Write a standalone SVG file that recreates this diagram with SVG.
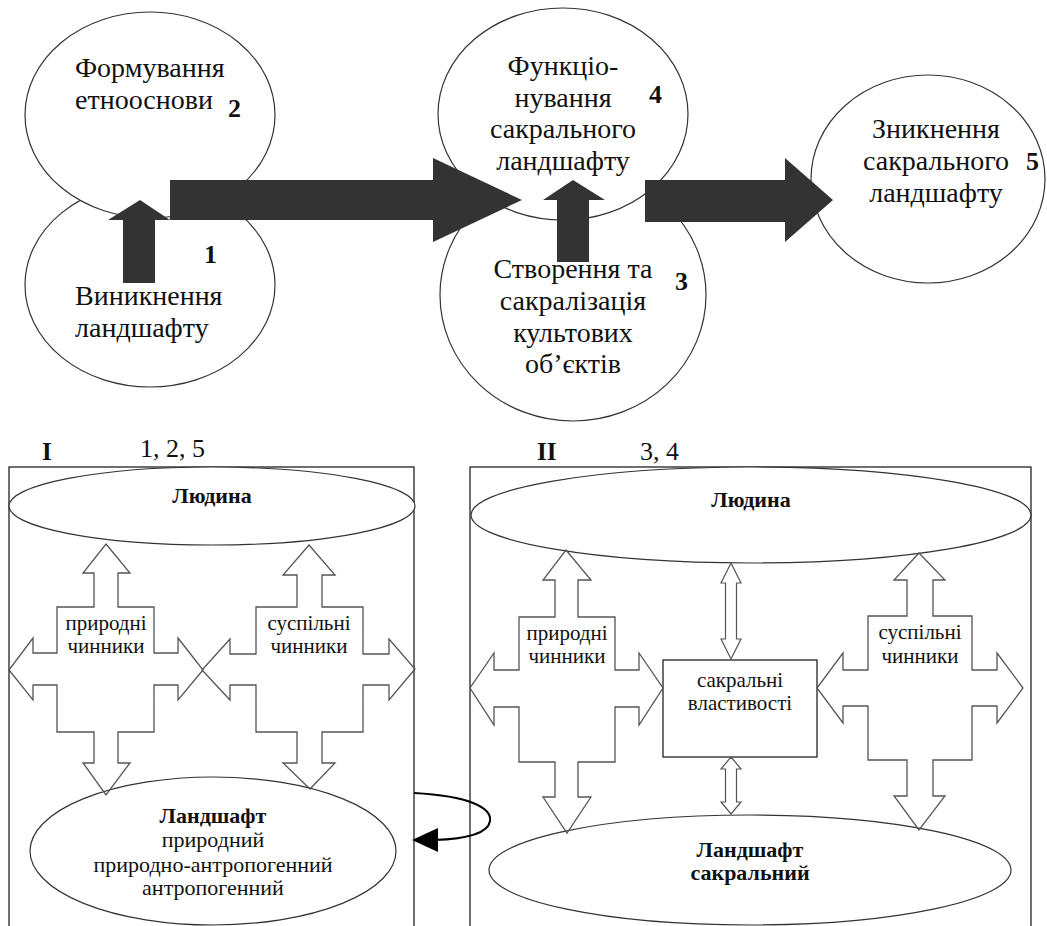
<svg xmlns="http://www.w3.org/2000/svg" width="1047" height="926" viewBox="0 0 1047 926" font-family="'Liberation Serif', 'DejaVu Serif', serif">
<style>
.bg{fill:#ffffff}
.ell{fill:#ffffff;stroke:#333333;stroke-width:1.2}
.box{fill:none;stroke:#222222;stroke-width:1.3}
.sbox{fill:#ffffff;stroke:#222222;stroke-width:1.3}
.big{fill:#333333;stroke:none}
.cross{fill:none;stroke:#555555;stroke-width:1.3;stroke-linejoin:miter}
.dbl{fill:#ffffff;stroke:#555555;stroke-width:1.2}
.t{font-family:'Liberation Serif','DejaVu Serif',serif;fill:#111111}
.tl{font-size:28px}
.num{font-size:26px;font-weight:bold}
.lab{font-size:26px}
.labb{font-size:25px;font-weight:bold}
.s{font-size:22px}
.sb{font-size:22px;font-weight:bold}
.f{font-size:21px}
.loop{fill:none;stroke:#000000;stroke-width:2}
</style>
<rect class="bg" x="0" y="0" width="1047" height="926"/>

<g id="node1">
<ellipse class="ell" cx="150" cy="285" rx="125" ry="102"/>
<text class="t tl" x="75" y="305">Виникнення</text>
<text class="t tl" x="75" y="337">ландшафту</text>
<text class="t num" x="204" y="263">1</text>
</g>
<g id="node2">
<ellipse class="ell" cx="150" cy="115" rx="125" ry="103"/>
<text class="t tl" x="75" y="77">Формування</text>
<text class="t tl" x="75" y="109">етнооснови</text>
<text class="t num" x="228" y="117">2</text>
</g>
<g id="node3">
<ellipse class="ell" cx="573" cy="295" rx="133" ry="126"/>
<text class="t tl" x="573" y="278" text-anchor="middle">Створення та</text>
<text class="t tl" x="573" y="310" text-anchor="middle">сакралізація</text>
<text class="t tl" x="573" y="342" text-anchor="middle">культових</text>
<text class="t tl" x="573" y="373" text-anchor="middle">об’єктів</text>
<text class="t num" x="675" y="290">3</text>
</g>
<g id="node4">
<ellipse class="ell" cx="563" cy="114" rx="125" ry="106"/>
<text class="t tl" x="563" y="75" text-anchor="middle">Функціо-</text>
<text class="t tl" x="563" y="107" text-anchor="middle">нування</text>
<text class="t tl" x="563" y="138" text-anchor="middle">сакрального</text>
<text class="t tl" x="563" y="170" text-anchor="middle">ландшафту</text>
<text class="t num" x="649" y="103">4</text>
</g>
<g id="node5">
<ellipse class="ell" cx="928" cy="179" rx="117" ry="104"/>
<text class="t tl" x="936" y="138" text-anchor="middle">Зникнення</text>
<text class="t tl" x="936" y="170" text-anchor="middle">сакрального</text>
<text class="t tl" x="936" y="202" text-anchor="middle">ландшафту</text>
<text class="t num" x="1026" y="170">5</text>
</g>

<g id="panelI">
<rect class="box" x="9" y="467" width="405" height="470"/>
<text class="t labb" x="42" y="460">I</text>
<text class="t lab" x="140" y="457">1, 2, 5</text>
</g>
<g id="panelII">
<rect class="box" x="470" y="467" width="561" height="470"/>
<text class="t labb" x="537" y="460">II</text>
<text class="t lab" x="640" y="460">3, 4</text>
</g>
<g id="humanI">
<ellipse class="ell" cx="212" cy="506" rx="203" ry="39"/>
<text class="t sb" x="212" y="503" text-anchor="middle">Людина</text>
</g>
<g id="humanII">
<ellipse class="ell" cx="751" cy="515" rx="280" ry="48"/>
<text class="t sb" x="751" y="507" text-anchor="middle">Людина</text>
</g>
<g id="landI">
<ellipse class="ell" cx="213" cy="851" rx="183" ry="74"/>
<text class="t sb" x="213" y="823" text-anchor="middle">Ландшафт</text>
<text class="t s" x="213" y="847" text-anchor="middle">природний</text>
<text class="t s" x="213" y="872" text-anchor="middle">природно-антропогенний</text>
<text class="t s" x="213" y="895" text-anchor="middle">антропогенний</text>
</g>
<g id="landII">
<ellipse class="ell" cx="750" cy="870" rx="261" ry="55"/>
<text class="t sb" x="750" y="857" text-anchor="middle">Ландшафт</text>
<text class="t sb" x="750" y="880" text-anchor="middle">сакральний</text>
</g>
<g id="sacral">
<rect class="sbox" x="663" y="660" width="154" height="97"/>
<text class="t f" x="740" y="687" text-anchor="middle">сакральні</text>
<text class="t f" x="740" y="710" text-anchor="middle">властивості</text>
</g>

<g id="connectors">
<polygon class="big" points="170,180 433,180 433,158 522,200 433,242 433,220 170,220"/>
<polygon class="big" points="123,283 123,220 108,220 140,200 170,220 155,220 155,283"/>
<polygon class="big" points="557,262 557,200 543,200 573,180 605,200 589,200 589,262"/>
<polygon class="big" points="645,180 785,180 785,158 833,200 785,242 785,222 645,222"/>

<g id="factorsI-natural">
<polygon class="cross" points="106,544 130,573 118,573 118,607 154,607 154,653 178,653 178,638 203,670 178,700 178,685 154,685 154,732 118,732 118,763 130,763 106,795 83,763 94,763 94,732 57,732 57,685 33,685 33,700 9,670 33,638 33,653 57,653 57,607 94,607 94,573 83,573"/>
<text class="t f" x="106" y="630" text-anchor="middle">природні</text>
<text class="t f" x="106" y="653" text-anchor="middle">чинники</text>
</g>
<g id="factorsI-social">
<polygon class="cross" points="309,545 335,575 322,575 322,607 363,607 363,654 389,654 389,639 415,669 389,700 389,685 363,685 363,732 322,732 322,763 335,763 310,789 283,763 297,763 297,732 256,732 256,685 230,685 230,700 202,670 230,639 230,654 256,654 256,607 297,607 297,575 283,575"/>
<text class="t f" x="309" y="630" text-anchor="middle">суспільні</text>
<text class="t f" x="309" y="653" text-anchor="middle">чинники</text>
</g>
<g id="factorsII-natural">
<polygon class="cross" points="566,550 591,580 578,580 578,617 615,617 615,670 639,670 639,653 663,688 639,725 639,707 615,707 615,762 578,762 578,797 591,797 567,833 543,797 555,797 555,762 519,762 519,707 494,707 494,725 470,688 494,653 494,670 519,670 519,617 555,617 555,580 543,580"/>
<text class="t f" x="567" y="640" text-anchor="middle">природні</text>
<text class="t f" x="567" y="663" text-anchor="middle">чинники</text>
</g>
<g id="factorsII-social">
<polygon class="cross" points="919,553 945,580 933,580 933,616 972,616 972,670 997,670 997,653 1023,688 997,723 997,706 972,706 972,760 933,760 933,796 945,796 919,830 894,796 907,796 907,760 868,760 868,706 843,706 843,723 817,688 843,653 843,670 868,670 868,616 907,616 907,580 894,580"/>
<text class="t f" x="920" y="639" text-anchor="middle">суспільні</text>
<text class="t f" x="920" y="663" text-anchor="middle">чинники</text>
</g>

<polygon class="dbl" points="731,563 741,583 736.5,583 736.5,639 741,639 731,659 721,639 725.5,639 725.5,583 721,583"/>
<polygon class="dbl" points="731,757 741,769 736.5,769 736.5,802 741,802 731,814 721,802 725.5,802 725.5,769 721,769"/>

<path class="loop" d="M414,793 C470,796 492,808 490,821 C488,834 465,839 434,840"/>
<polygon points="412,840 438,828 438,852" fill="#000000"/>
</g>
</svg>
